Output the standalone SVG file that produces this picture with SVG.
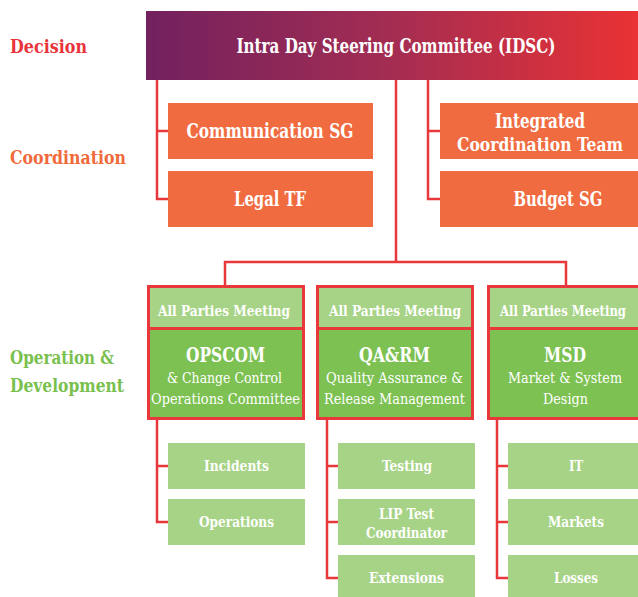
<svg xmlns="http://www.w3.org/2000/svg" width="638" height="597" viewBox="0 0 638 597">
<defs>
<linearGradient id="hdr" x1="0" y1="0" x2="1" y2="0">
<stop offset="0" stop-color="#72215f"/>
<stop offset="0.5" stop-color="#a42d52"/>
<stop offset="1" stop-color="#ea3234"/>
</linearGradient>
<style>
text{font-family:"DejaVu Serif Condensed","DejaVu Serif",serif;font-weight:bold;text-anchor:middle;fill:#fff}
.lbl{text-anchor:start;font-size:19px}
.or{fill:#f06b3f}
.lg{fill:#a6d385}
.dg{fill:#7cc151}
.ln{fill:none;stroke:#e8383c;stroke-width:2.5}
.frame{fill:none;stroke:#e8383c;stroke-width:3}
.t19{font-size:19.5px}
.t15{font-size:15.5px}
.ttl{font-size:21px}
.sub{font-size:15.5px;font-weight:normal}
</style>
</defs>
<rect width="638" height="597" fill="#fff"/>
<text class="lbl" x="10" y="53" textLength="77" lengthAdjust="spacingAndGlyphs" style="fill:#e8343a">Decision</text>
<text class="lbl" x="10" y="164" textLength="116" lengthAdjust="spacingAndGlyphs" style="fill:#f06a3c">Coordination</text>
<text class="lbl" x="10" y="364" textLength="104" lengthAdjust="spacingAndGlyphs" style="fill:#7ac04e">Operation &amp;</text>
<text class="lbl" x="10" y="392" textLength="114" lengthAdjust="spacingAndGlyphs" style="fill:#7ac04e">Development</text>

<g id="connectors">
<path class="ln" d="M157 80V199H168M157 131H168"/>
<path class="ln" d="M428 80V199H440M428 131H440"/>
<path class="ln" d="M396 80V262M225 285V262H566V285"/>
<path class="ln" d="M157 420V522H168M157 466H168"/>
<path class="ln" d="M327 420V578H338M327 466H338M327 522H338"/>
<path class="ln" d="M497 420V578H508M497 466H508M497 522H508"/>
</g>

<g id="idsc">
<rect x="146" y="11" width="492" height="69" fill="url(#hdr)"/>
<text x="396" y="53" style="font-size:21px" textLength="319" lengthAdjust="spacingAndGlyphs">Intra Day Steering Committee (IDSC)</text>
</g>

<g id="comm"><rect class="or" x="168" y="103" width="205" height="56"/><text class="t19" x="270" y="138" textLength="167" lengthAdjust="spacingAndGlyphs">Communication SG</text></g>
<g id="legal"><rect class="or" x="168" y="171" width="205" height="56"/><text class="t19" x="270" y="206" textLength="72" lengthAdjust="spacingAndGlyphs">Legal TF</text></g>
<g id="ict"><rect class="or" x="440" y="103" width="198" height="56"/><text class="t19" x="540" y="128" textLength="90" lengthAdjust="spacingAndGlyphs">Integrated</text><text x="540" y="151" style="font-size:18px" textLength="166" lengthAdjust="spacingAndGlyphs">Coordination Team</text></g>
<g id="budget"><rect class="or" x="440" y="171" width="198" height="56"/><text class="t19" x="558" y="206" textLength="89" lengthAdjust="spacingAndGlyphs">Budget SG</text></g>

<g id="opscom">
<rect class="lg" x="147" y="285" width="158" height="43"/>
<rect class="dg" x="147" y="328" width="158" height="92"/>
<rect class="frame" x="148.5" y="286.5" width="155" height="132"/>
<line class="frame" x1="148" y1="328.5" x2="304" y2="328.5"/>
<text class="t15" x="224" y="316" textLength="132" lengthAdjust="spacingAndGlyphs">All Parties Meeting</text>
<text class="ttl" x="225.5" y="362" textLength="79" lengthAdjust="spacingAndGlyphs">OPSCOM</text>
<text class="sub" x="224.5" y="383" textLength="115" lengthAdjust="spacingAndGlyphs">&amp; Change Control</text>
<text class="sub" x="225.5" y="404" textLength="149" lengthAdjust="spacingAndGlyphs">Operations Committee</text>
</g>
<g id="qarm">
<rect class="lg" x="316" y="285" width="158" height="43"/>
<rect class="dg" x="316" y="328" width="158" height="92"/>
<rect class="frame" x="317.5" y="286.5" width="155" height="132"/>
<line class="frame" x1="317" y1="328.5" x2="473" y2="328.5"/>
<text class="t15" x="395" y="316" textLength="132" lengthAdjust="spacingAndGlyphs">All Parties Meeting</text>
<text class="ttl" x="394.5" y="362" textLength="71" lengthAdjust="spacingAndGlyphs">QA&amp;RM</text>
<text class="sub" x="394.5" y="383" textLength="137" lengthAdjust="spacingAndGlyphs">Quality Assurance &amp;</text>
<text class="sub" x="394.5" y="404" textLength="141" lengthAdjust="spacingAndGlyphs">Release Management</text>
</g>
<g id="msd">
<rect class="lg" x="487" y="285" width="151" height="43"/>
<rect class="dg" x="487" y="328" width="151" height="92"/>
<path class="frame" d="M638 286.5H488.5V418.5H638M488 328.5H638"/>
<text x="563" y="316" style="font-size:14px" textLength="126" lengthAdjust="spacingAndGlyphs">All Parties Meeting</text>
<text class="ttl" x="565" y="362" textLength="42" lengthAdjust="spacingAndGlyphs">MSD</text>
<text class="sub" x="565" y="383" textLength="114" lengthAdjust="spacingAndGlyphs">Market &amp; System</text>
<text class="sub" x="565.5" y="404" textLength="45" lengthAdjust="spacingAndGlyphs">Design</text>
</g>

<g id="incidents"><rect class="lg" x="168" y="443" width="137" height="46"/><text class="t15" x="236.5" y="471" textLength="65" lengthAdjust="spacingAndGlyphs">Incidents</text></g>
<g id="operations"><rect class="lg" x="168" y="499" width="137" height="46"/><text class="t15" x="236.5" y="527" textLength="75" lengthAdjust="spacingAndGlyphs">Operations</text></g>
<g id="testing"><rect class="lg" x="338" y="443" width="137" height="46"/><text class="t15" x="407" y="471" textLength="50" lengthAdjust="spacingAndGlyphs">Testing</text></g>
<g id="lip"><rect class="lg" x="338" y="499" width="137" height="46"/><text class="t15" x="406.5" y="519" textLength="55" lengthAdjust="spacingAndGlyphs">LIP Test</text><text class="t15" x="406.5" y="538" textLength="81" lengthAdjust="spacingAndGlyphs">Coordinator</text></g>
<g id="extensions"><rect class="lg" x="338" y="555" width="137" height="42"/><text class="t15" x="406.5" y="583" textLength="75" lengthAdjust="spacingAndGlyphs">Extensions</text></g>
<g id="it"><rect class="lg" x="508" y="443" width="130" height="46"/><text class="t15" x="576" y="471" textLength="14" lengthAdjust="spacingAndGlyphs">IT</text></g>
<g id="markets"><rect class="lg" x="508" y="499" width="130" height="46"/><text class="t15" x="576" y="527" textLength="56" lengthAdjust="spacingAndGlyphs">Markets</text></g>
<g id="losses"><rect class="lg" x="508" y="555" width="130" height="42"/><text class="t15" x="576" y="583" textLength="44" lengthAdjust="spacingAndGlyphs">Losses</text></g>
</svg>
